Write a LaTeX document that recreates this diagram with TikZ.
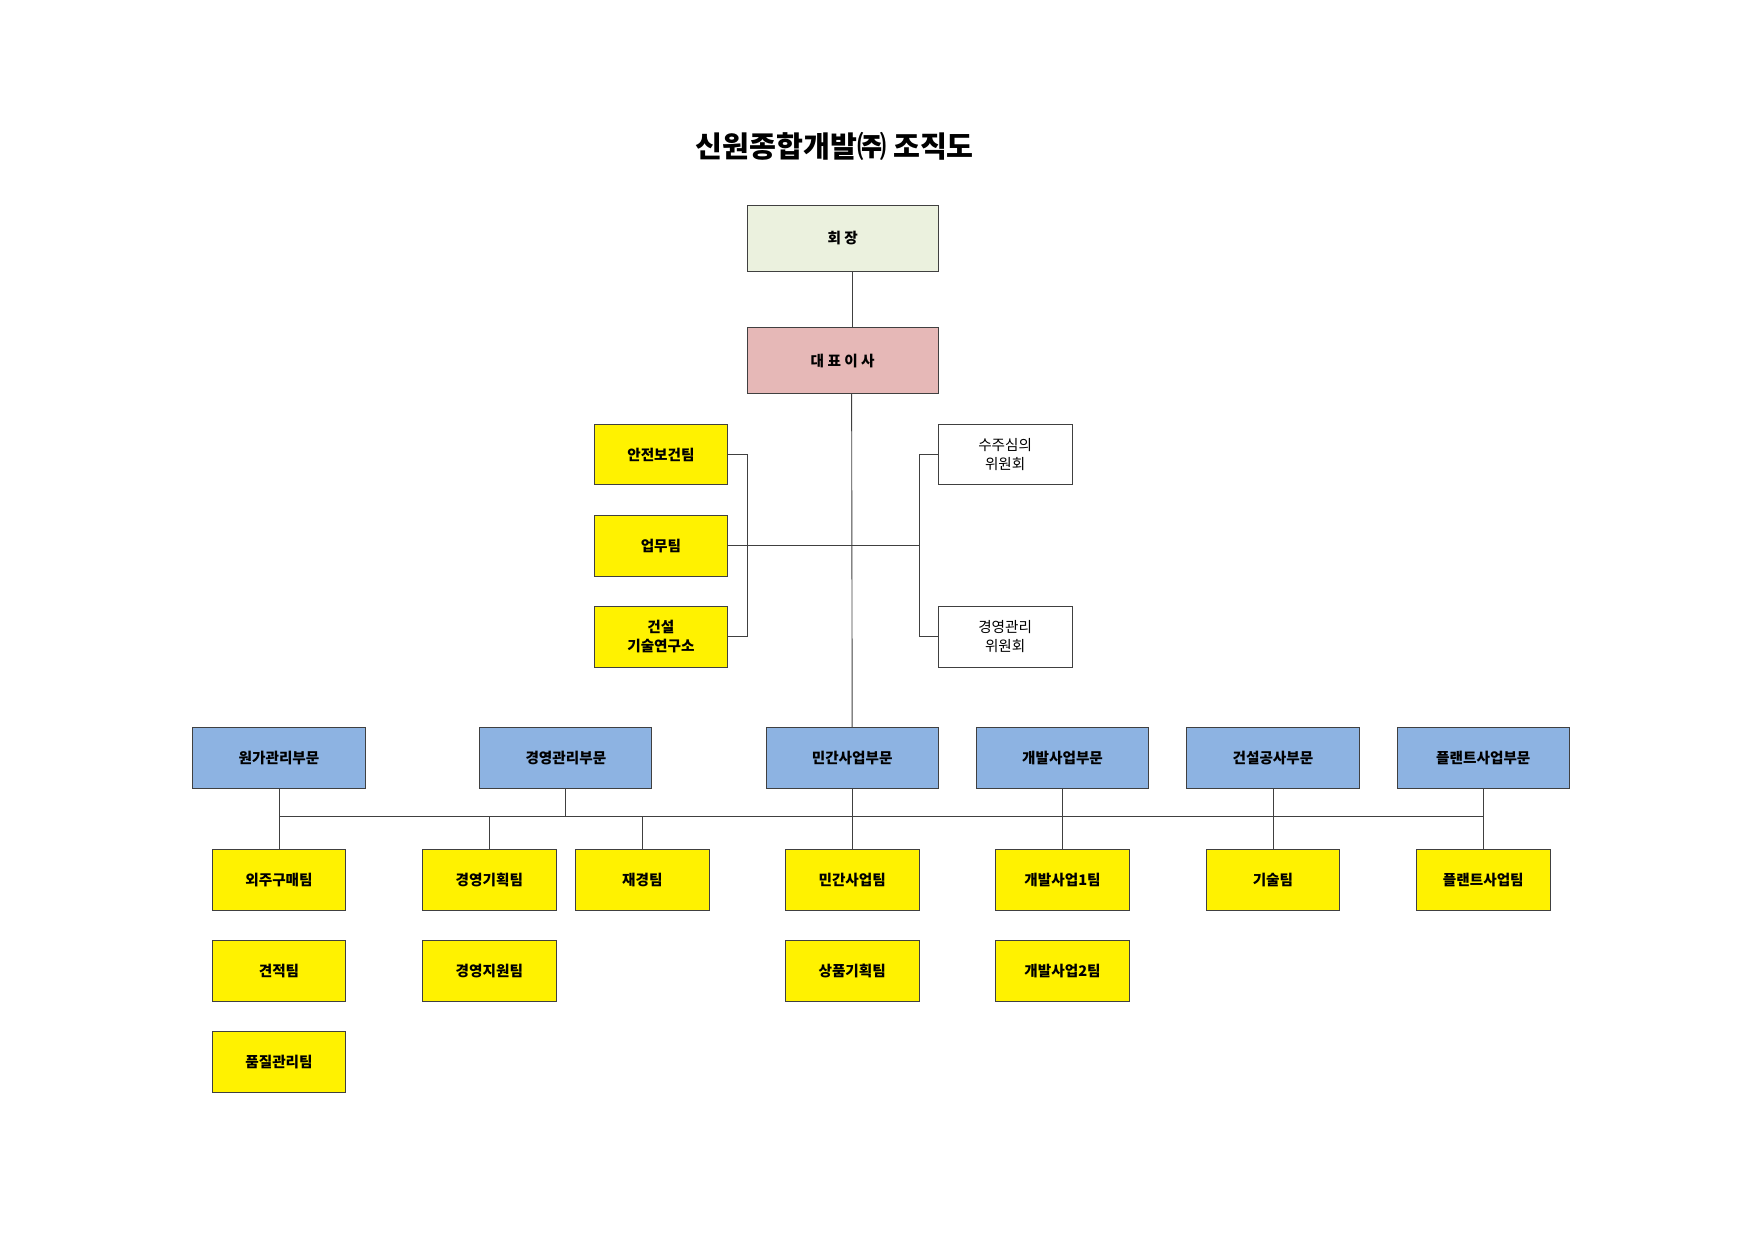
\documentclass[tikz,border=0pt]{standalone}
\usepackage{fontspec}
\setmainfont{Noto Sans CJK KR}
\begin{document}
\begin{tikzpicture}[x=1pt,y=-1pt,
 bx/.style={draw=black!75,line width=0.8pt,minimum width=#1,font=\fontsize{13}{17}\selectfont\bfseries,align=center,inner sep=0pt},
 yb/.style={bx=119pt,fill=yellow,minimum height=54pt},
 db/.style={bx=153pt,fill={rgb,255:red,141;green,179;blue,226},minimum height=54pt},
 wb/.style={bx=119pt,fill=white,minimum height=54pt,font=\fontsize{13}{17}\selectfont},
 ln/.style={draw=black!75,line width=0.8pt}]
\useasboundingbox (0,0) rectangle (1560,1103);
\node[font=\fontsize{26}{30}\selectfont\bfseries] (title) at (742,130) {신원종합개발㈜ 조직도};
\node[bx=170pt,minimum height=58pt,fill={rgb,255:red,235;green,241;blue,222}] (ch) at (749,212) {회 장};
\node[bx=170pt,minimum height=59pt,fill={rgb,255:red,230;green,184;blue,183}] (ceo) at (749,320.5) {대 표 이 사};
\coordinate (c1) at (758,241); \coordinate (c2) at (758,291);
\draw[ln] (c1)--(c2);
\node[yb] (s1) at (587.5,404) {안전보건팀};
\node[yb] (s2) at (587.5,485) {업무팀};
\node[yb] (s3) at (587.5,566) {건설\\기술연구소};
\node[wb] (w1) at (893.5,404) {수주심의\\위원회};
\node[wb] (w2) at (893.5,566) {경영관리\\위원회};
\node[db] (d1) at (248,674) {원가관리부문};
\node[db] (d2) at (503,674) {경영관리부문};
\node[db] (d3) at (757.5,674) {민간사업부문};
\node[db] (d4) at (944.5,674) {개발사업부문};
\node[db] (d5) at (1131.5,674) {건설공사부문};
\node[db] (d6) at (1318.5,674) {플랜트사업부문};
\coordinate (cb) at (757,350);
\draw[ln] (cb)--(d3.north);
\coordinate (lb1) at (664,404); \coordinate (lb3) at (664,566);
\coordinate (rb1) at (817,404); \coordinate (rb3) at (817,566);
\draw[ln] (s1.east)--(lb1)--(lb3)--(s3.east);
\draw[ln] (w1.west)--(rb1)--(rb3)--(w2.west);
\coordinate (rm) at (817,485);
\draw[ln] (s2.east)--(rm);
\node[yb] (t11) at (248,782) {외주구매팀};
\node[yb] (t12) at (248,863) {견적팀};
\node[yb] (t13) at (248,944) {품질관리팀};
\node[yb] (t21) at (435,782) {경영기획팀};
\node[yb] (t22) at (435,863) {경영지원팀};
\node[yb] (t23) at (571,782) {재경팀};
\node[yb] (t31) at (757.5,782) {민간사업팀};
\node[yb] (t32) at (757.5,863) {상품기획팀};
\node[yb] (t41) at (944.5,782) {개발사업1팀};
\node[yb] (t42) at (944.5,863) {개발사업2팀};
\node[yb] (t51) at (1131.5,782) {기술팀};
\node[yb] (t61) at (1318.5,782) {플랜트사업팀};
\coordinate (hl) at (248,726); \coordinate (hr) at (1318.5,726);
\draw[ln] (hl)--(hr);
\foreach \d/\t in {d1/t11,d3/t31,d4/t41,d5/t51,d6/t61} \draw[ln] (\d.south)--(\t.north);
\draw[ln] (d2.south)--(d2.south|-hl);
\draw[ln] (t21.north)--(t21.north|-hl);
\draw[ln] (t23.north)--(t23.north|-hl);
\end{tikzpicture}
\end{document}
